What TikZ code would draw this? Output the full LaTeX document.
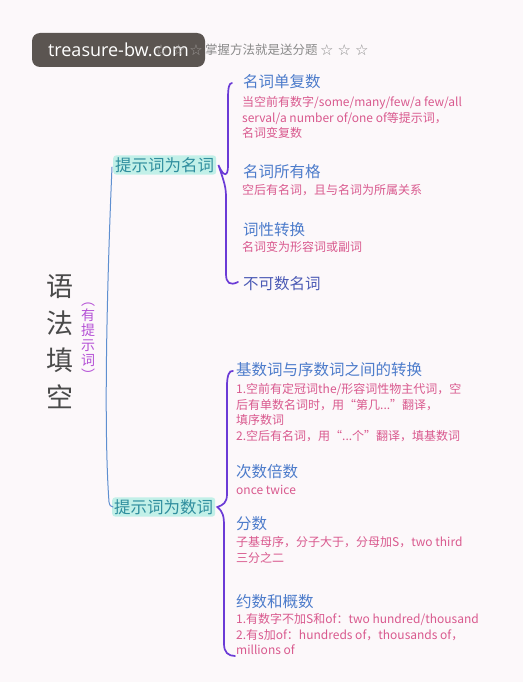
\documentclass[tikz,border=0pt]{standalone}
\usepackage{fontspec}
\setmainfont{Noto Sans CJK SC}
\newfontfamily\symfont{DejaVu Sans}
\newfontfamily\wmfont{Open Sans}
\definecolor{bg}{HTML}{FCF8FA}
\definecolor{headblue}{HTML}{4D7CCB}
\definecolor{headdark}{HTML}{4B5AB5}
\definecolor{descpink}{HTML}{D9598E}
\definecolor{grpteal}{HTML}{2F8E9E}
\definecolor{hl}{HTML}{C2F0E8}
\definecolor{bracecol}{HTML}{6B3BD6}
\definecolor{trunkcol}{HTML}{5E8FD0}
\definecolor{titlegray}{HTML}{4A4A4A}
\definecolor{subpurple}{HTML}{B552D6}
\definecolor{topgray}{HTML}{8A8A8A}
\definecolor{wmbox}{HTML}{5B5551}
\definecolor{starlight}{HTML}{9C9896}
\begin{document}
\begin{tikzpicture}[x=1pt,y=-1pt,
  head/.style={anchor=west, font=\fontsize{15.5}{15.5}\selectfont, text=headblue, inner sep=0pt},
  desc/.style={anchor=north west, font=\fontsize{12}{15.7}\selectfont, text=descpink, align=left, inner sep=0pt},
  grp/.style={anchor=west, fill=hl, text=grpteal, font=\fontsize{16.5}{16.5}\selectfont, inner sep=2pt, rounded corners=3pt},
  stars/.style={inner sep=0pt, text=topgray, font=\symfont\fontsize{15}{15}\selectfont},
  bracepath/.style={draw=bracecol, line width=1.7pt, line cap=round},
  trunkpath/.style={draw=trunkcol, line width=1pt, line cap=round}]
\useasboundingbox[fill=bg] (0,0) rectangle (523,682);

% watermark
\node[fill=wmbox, rounded corners=8pt, minimum width=173pt, minimum height=34pt, inner sep=0pt,
  text=white, font=\wmfont\fontsize{18}{18}\selectfont] (wm) at (118.5,50) {treasure-bw.com};

% top banner text
\node[stars, anchor=east, text=starlight] (s1) at (203,50) {☆\hspace{4pt}☆\hspace{4pt}☆};
\node[anchor=west, inner sep=0pt, text=topgray, font=\fontsize{12.5}{12.5}\selectfont] (top) at (205,50) {掌握方法就是送分题};
\node[stars, anchor=west] (s2) at (320,50) {☆\hspace{4pt}☆\hspace{4pt}☆};

% title
\node[align=center, inner sep=0pt, text=titlegray, font=\fontsize{27}{37}\selectfont] (title) at (60,342)
  {语\\法\\填\\空};
\node[align=center, inner sep=0pt, text=subpurple, font=\fontsize{14}{15}\selectfont] (sub) at (88,342)
  {︵\\有\\提\\示\\词\\︶};

% group labels
\node[grp] (g1) at (113,165) {提示词为名词};
\node[grp] (g2) at (112,507) {提示词为数词};

% group 1 items
\node[head] (h1) at (243,82) {名词单复数};
\node[desc] (d1) at (242,96) {当空前有数字/some/many/few/a few/all\\serval/a number of/one of等提示词，\\名词变复数};
\node[head] (h2) at (243,172) {名词所有格};
\node[desc] (d2) at (242,184) {空后有名词，且与名词为所属关系};
\node[head] (h3) at (243,230) {词性转换};
\node[desc] (d3) at (242,241) {名词变为形容词或副词};
\node[head, text=headdark] (h4) at (243,284) {不可数名词};

% group 2 items
\node[head] (h5) at (236,370) {基数词与序数词之间的转换};
\node[desc] (d5) at (236,383) {1.空前有定冠词the/形容词性物主代词，空\\后有单数名词时，用“第几...”翻译，\\填序数词\\2.空后有名词，用“...个”翻译，填基数词};
\node[head] (h6) at (236,472) {次数倍数};
\node[desc] (d6) at (236,485) {once twice};
\node[head] (h7) at (236,524) {分数};
\node[desc] (d7) at (236,536) {子基母序，分子大于，分母加S，two third\\三分之二};
\node[head] (h8) at (236,602) {约数和概数};
\node[desc] (d8) at (236,613) {1.有数字不加S和of：two hundred/thousand\\2.有s加of：hundreds of，thousands of，\\millions of};

% trunk
\draw[trunkpath] ([xshift=-1pt,yshift=-2pt]g1.west) .. controls (108,260) and (103,420) .. (109,502)
  .. controls (110,506) .. ([xshift=1pt]g2.west);

% brace 1
\draw[bracepath] ([xshift=-11pt,yshift=-1pt]h1.west) .. controls (229,83) and (228,88) .. (228,98)
  -- (228,166) .. controls (228,176) and (224,178) .. ([xshift=2pt]g1.east)
  .. controls (225,184) and (226,188) .. (226,198)
  -- (226,274) .. controls (226,283) and (230,286) .. ([xshift=-5pt,yshift=2pt]h4.west);

% brace 2
\draw[bracepath] ([xshift=-3pt,yshift=-1pt]h5.west) .. controls (229,370) and (227,376) .. (227,386)
  -- (227,494) .. controls (227,503) and (223,505) .. ([xshift=2pt]g2.east)
  .. controls (223,512) and (224,516) .. (224,526)
  -- (224,644) .. controls (224,652) and (228,656) .. (235,656);
\end{tikzpicture}
\end{document}
